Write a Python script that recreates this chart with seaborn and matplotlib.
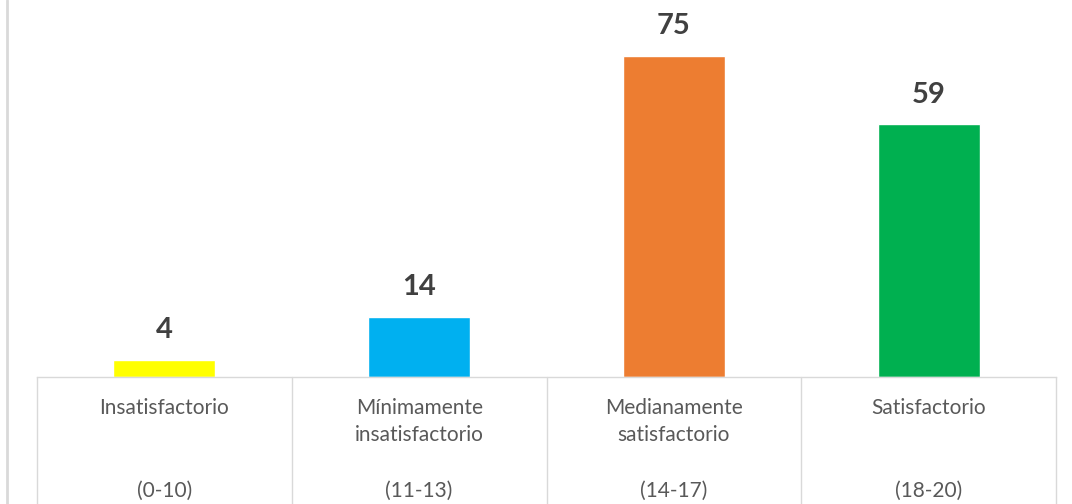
import matplotlib
matplotlib.use("Agg")
import matplotlib.pyplot as plt
from matplotlib.lines import Line2D
import seaborn as sns
import pandas as pd

categories = ["Insatisfactorio", "Mínimamente insatisfactorio", "Medianamente satisfactorio", "Satisfactorio"]
tick_labels = ["Insatisfactorio\n\n\n(0-10)",
               "Mínimamente\ninsatisfactorio\n\n(11-13)",
               "Medianamente\nsatisfactorio\n\n(14-17)",
               "Satisfactorio\n\n\n(18-20)"]
values = [4, 14, 75, 59]
colors = ["#FFFF00", "#00B0F0", "#ED7D31", "#00B050"]

sns.set_theme(style="white")
plt.rcParams['font.family'] = ['Lato', 'DejaVu Sans']

df = pd.DataFrame({"cat": categories, "val": values})

fig = plt.figure(figsize=(10.72, 5.04), dpi=100)
ax = fig.add_axes([37/1072, (504-377)/504, (1056-37)/1072, 377/504])

sns.barplot(data=df, x="cat", y="val", hue="cat", palette=colors, width=0.4,
            legend=False, ax=ax, saturation=1)

ax.set_xlim(-0.5, 3.5)
ax.set_ylim(0, 88)
ax.set_xlabel("")
ax.set_ylabel("")
ax.set_yticks([])
ax.set_xticks(range(len(categories)))
ax.set_xticklabels(tick_labels, fontsize=15, color="#595959", linespacing=1.47)
ax.tick_params(axis="x", length=0, pad=15)
for s in ["top", "right", "left"]:
    ax.spines[s].set_visible(False)
ax.spines["bottom"].set_color("#D9D9D9")
ax.spines["bottom"].set_linewidth(1.0)

for c in ax.containers:
    ax.bar_label(c, fmt="%d", padding=12, fontsize=21, fontweight="bold", color="#404040")

# table-like separators below the axis
tr = ax.get_xaxis_transform()
for xv in [-0.5, 0.5, 1.5, 2.5, 3.5]:
    ax.plot([xv, xv], [0, -127/377], transform=tr, color="#D9D9D9", lw=1.0, clip_on=False)

# slide border on the left
fig.add_artist(Line2D([7/1072, 7/1072], [0, 1], transform=fig.transFigure, color="#D9D9D9", lw=2))

fig.savefig("out.png", dpi=100)
